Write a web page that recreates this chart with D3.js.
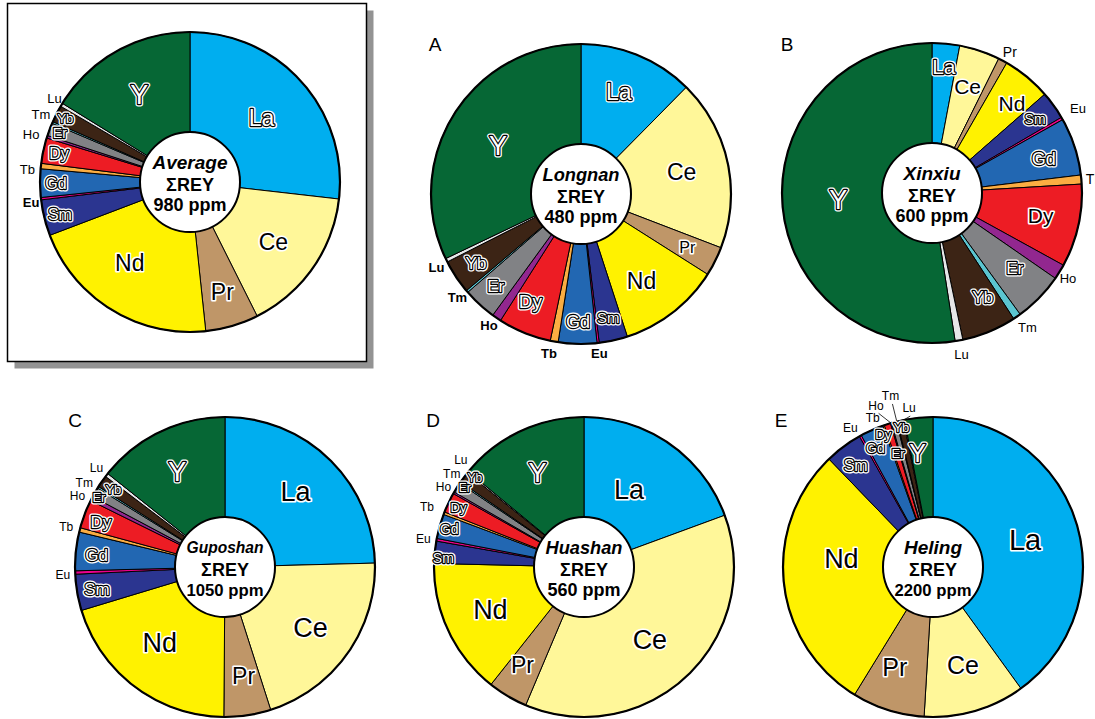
<!DOCTYPE html>
<html>
<head>
<meta charset="utf-8">
<script src="https://cdn.jsdelivr.net/npm/d3@7"></script>
<style>
  html, body { margin: 0; padding: 0; background: #fff; }
  svg { display: block; font-family: "Liberation Sans", Arial, Helvetica, sans-serif; }
</style>
</head>
<body>
<script>
// Rare earth elements + Y, in pie order (clockwise from 12 o'clock)
const elements = ["La", "Ce", "Pr", "Nd", "Sm", "Eu", "Gd", "Tb", "Dy", "Ho", "Er", "Tm", "Yb", "Lu", "Y"];

// REY contents (ppm) per site
const averageREY  = [263, 155, 56, 205, 38, 2.5, 30, 5.7, 27, 2.7, 13.6, 1.9, 18, 3.5, 159];
const longnanREY  = [59.5, 88.5, 15.2, 52.8, 14.7, 1.1, 19.9, 4.1, 27.5, 4.8, 17.3, 1.1, 17.6, 1.9, 154];
const xinxiuREY   = [17.8, 26.2, 5.8, 31.5, 18.2, 1.7, 37.3, 5.8, 53.7, 9.8, 32.2, 5, 35.2, 5, 314.8];
const guposhanREY = [258, 215, 53, 212, 41, 3.8, 43.5, 5, 32.4, 5, 11, 2, 13.7, 4, 150];
const huashanREY  = [108.6, 207, 24.1, 82.4, 13.4, 1.6, 14.8, 1.6, 12.1, 1.1, 6.2, 0.9, 6.7, 0.9, 78.6];
const helingREY   = [880, 240, 172, 638, 89, 5, 55, 3.7, 15, 2.5, 12, 1.8, 15, 2.4, 67];

const siteNames   = ["Average", "Longnan", "Xinxiu", "Guposhan", "Huashan", "Heling"];
const totalLabels = ["980 ppm", "480 ppm", "600 ppm", "1050 ppm", "560 ppm", "2200 ppm"];
const panelLetters = ["", "A", "B", "C", "D", "E"];
const siteValues = [averageREY, longnanREY, xinxiuREY, guposhanREY, huashanREY, helingREY];

const colors = {
  La: "#00aeef", Ce: "#fff799", Pr: "#bf9668", Nd: "#fff200", Sm: "#2b3590",
  Eu: "#ec008c", Gd: "#2267b2", Tb: "#fbad42", Dy: "#ed1c24", Ho: "#92278f",
  Er: "#818285", Tm: "#5bc5d0", Yb: "#3c2415", Lu: "#e6e7e8", Y: "#066735"
};

// ---- layout ----
const W = 1095, H = 719;
const R = 150, R0 = 50;
const captionWidth = 77;
const centers = [[190, 182], [581, 194], [932, 193], [225, 567], [584, 567], [933, 567]];
const letterPos = [null, [435, 44], [787, 44], [75, 420], [433, 420], [781, 420]];

// label placement: element -> [radius px, angle nudge deg, font size, style, bold, anchor, leader]
// style: "w" white text with dark outline, "k" dark text with white halo, "o" plain outside label
const labelLayout = [
  { La: [96, 0, 23, "w"], Ce: [103, 1, 23, "k"], Pr: [115, 0, 23, "k"], Nd: [101, 5, 23, "k"],
    Sm: [134, 0, 16, "w"], Gd: [134, 0, 16, "w"], Dy: [134, 0, 16, "w"], Er: [139, 0, 14, "w"],
    Yb: [140, 0, 13, "w"], Y: [101, -1, 27, "w"],
    Lu: [153, 2, 13, "o"], Tm: [155, 2.3, 13, "o"], Ho: [158, 0, 13, "o"],
    Tb: [155.5, -1.6, 13, "o"], Eu: [152, -1.5, 13, "o", true] },
  { La: [109, -2, 23, "w"], Ce: [103, 0, 23, "k"], Pr: [119, 0, 16, "k"], Nd: [106, 3, 23, "k"],
    Sm: [126, 0, 15, "w"], Gd: [128, 0, 18, "w"], Dy: [119, 3, 19, "w"], Er: [126, 0, 17, "w"],
    Yb: [126, 0, 17, "w"], Y: [96, -2, 27, "w"],
    Lu: [155, -2, 13, "o", true], Tm: [154, -1.8, 13, "o", true], Ho: [156, -2, 13, "o", true],
    Tb: [163, 1, 13, "o", true], Eu: [161, 0, 13, "o", true] },
  { La: [127, 0, 21, "w"], Ce: [112, 0, 21, "k"], Nd: [120, 2.5, 21, "k"], Sm: [127, 0, 14, "w"],
    Gd: [117, 1, 18, "w"], Dy: [111, -1, 21, "k"], Er: [112, -2, 17, "w"], Yb: [116, -3.5, 17, "w"],
    Y: [94, 0, 27, "w"],
    Pr: [158, -1.5, 14, "o"], Eu: [162, -1.8, 13, "o"], Tb: [154.5, 0, 14, "o"],
    Ho: [153.6, 2, 13, "o"], Tm: [160, 2, 13, "o"], Lu: [164, 0, 13, "o"] },
  { La: [103, -1, 27, "k"], Ce: [105, 0, 27, "k"], Pr: [111, -1, 23, "k"], Nd: [100, 4, 27, "k"],
    Sm: [130, 0, 17, "w"], Gd: [129, -1, 17, "w"], Dy: [132, -1, 17, "w"], Er: [144, -1, 13, "w"],
    Yb: [136, 0, 13, "w"], Y: [106, -1, 27, "w"],
    Lu: [157, 1.2, 12, "o"], Tm: [156.5, 0.3, 12, "o"], Ho: [157, -0.2, 12, "o"],
    Tb: [157, 0.4, 12, "o"], Eu: [155, -0.8, 12, "o"] },
  { La: [89, -4.6, 27, "k"], Ce: [98, 1.4, 27, "k"], Pr: [116, 1.4, 23, "k"], Nd: [103, 0.5, 27, "k"],
    Sm: [141, -2, 14, "w"], Gd: [140, 0, 14, "w"], Dy: [139, 0, 13, "w"], Er: [143, 1.5, 12, "w"],
    Yb: [141, 2.5, 12, "w"], Y: [105, -1, 27, "w"],
    Lu: [158, 3.3, 12, "o"], Tm: [155, 2.8, 12, "o"], Ho: [155, 1.3, 12, "o"],
    Tb: [161.5, 0.7, 12, "o"], Eu: [156, 0, 12, "o"] },
  { La: [96, 1.6, 29, "k"], Ce: [102.5, -0.7, 25, "k"], Pr: [107, 3.4, 25, "k"], Nd: [92, 11.4, 27, "k"],
    Sm: [128, -0.5, 16, "w"], Gd: [132, -1.8, 14, "w"], Dy: [142, -2.8, 13, "w"], Er: [119, -2, 13, "w"],
    Yb: [143, -0.2, 13, "w"], Y: [115, -2.2, 25, "w"],
    Eu: [158, 0.5, 12, "o", false, "end"], Tb: [160.5, -2.8, 12, "o", false, "middle"],
    Ho: [171, -3.2, 12, "o", false, "middle", true], Tm: [176, 0, 12, "o", false, "middle", true],
    Lu: [160.6, 2.6, 12, "o", false, "middle", true] }
];

const svg = d3.select("body").append("svg").attr("width", W).attr("height", H);

// framed panel with drop shadow for the average composition
svg.append("rect").attr("x", 14.5).attr("y", 10.5).attr("width", 359).attr("height", 358)
  .attr("fill", "#939393");
svg.append("rect").attr("x", 7.5).attr("y", 3.5).attr("width", 359).attr("height", 358)
  .attr("fill", "#fff").attr("stroke", "#000").attr("stroke-width", 1.5);

const pie = d3.pie().sort(null).value(d => d.v).startAngle(0).endAngle(2 * Math.PI);
const arc = d3.arc().innerRadius(R0).outerRadius(R);
const toRad = Math.PI / 180;

function polar(a, r) { return [r * Math.sin(a), -r * Math.cos(a)]; }

function styledText(g, txt, x, y, size, style, bold, anchor) {
  const base = t => t.attr("x", x).attr("y", y).attr("text-anchor", anchor || "middle")
    .attr("dominant-baseline", "central").attr("font-size", size)
    .attr("font-weight", bold ? "bold" : "normal").text(txt);
  if (style === "w") {
    g.append("text").call(base).attr("fill", "none").attr("stroke", "#fff")
      .attr("stroke-width", 5).attr("stroke-linejoin", "round");
    g.append("text").call(base).attr("fill", "#fff").attr("stroke", "#000")
      .attr("stroke-width", 2.4).attr("stroke-linejoin", "round").attr("paint-order", "stroke");
  } else if (style === "k") {
    g.append("text").call(base).attr("fill", "#000").attr("stroke", "#fff")
      .attr("stroke-width", 3.2).attr("stroke-linejoin", "round").attr("paint-order", "stroke");
  } else {
    g.append("text").call(base).attr("fill", "#000");
  }
}

// centre caption line, shrunk to fit inside the white disc
function caption(g, txt, y, size, italic) {
  const t = g.append("text").attr("y", y).attr("text-anchor", "middle")
    .attr("dominant-baseline", "central").attr("font-size", size)
    .attr("font-weight", "bold").attr("font-style", italic ? "italic" : "normal").text(txt);
  const len = t.node().getComputedTextLength();
  if (len > captionWidth) t.attr("font-size", size * captionWidth / len);
}

siteValues.forEach((vals, k) => {
  const [cx, cy] = centers[k];
  const g = svg.append("g").attr("transform", `translate(${cx},${cy})`);
  const data = pie(elements.map((e, i) => ({ e, v: vals[i] })));

  g.selectAll("path.slice").data(data).join("path")
    .attr("class", "slice")
    .attr("d", arc)
    .attr("fill", d => colors[d.data.e])
    .attr("stroke", "#000").attr("stroke-width", 1).attr("stroke-linejoin", "round");

  g.append("circle").attr("r", R).attr("fill", "none").attr("stroke", "#000").attr("stroke-width", 2.2);
  g.append("circle").attr("r", R0).attr("fill", "#fff").attr("stroke", "#000").attr("stroke-width", 2);

  // element labels
  const layout = labelLayout[k];
  data.forEach(d => {
    const spec = layout[d.data.e];
    if (!spec) return;
    const [r, nudge, size, style, bold, anchorOverride, leader] = spec;
    const mid = (d.startAngle + d.endAngle) / 2;
    const a = mid + nudge * toRad;
    const [x, y] = polar(a, r);
    let anchor = "middle";
    if (style === "o") {
      const s = Math.sin(a);
      anchor = anchorOverride || (s < -0.35 ? "end" : s > 0.35 ? "start" : "middle");
      if (leader) {
        const [x1, y1] = polar(mid, R);
        const [x2, y2] = polar(a, r - 8);
        g.append("line").attr("x1", x1).attr("y1", y1).attr("x2", x2).attr("y2", y2)
          .attr("stroke", "#000").attr("stroke-width", 0.8);
      }
    }
    styledText(g, d.data.e, x, y, size, style, bold, anchor);
  });

  caption(g, siteNames[k], -20, 19, true);
  caption(g, "ΣREY", 3, 18, false);
  caption(g, totalLabels[k], 23, 18, false);

  if (letterPos[k]) {
    svg.append("text").attr("x", letterPos[k][0]).attr("y", letterPos[k][1])
      .attr("text-anchor", "middle").attr("dominant-baseline", "central")
      .attr("font-size", 19).text(panelLetters[k]);
  }
});
</script>
</body>
</html>
